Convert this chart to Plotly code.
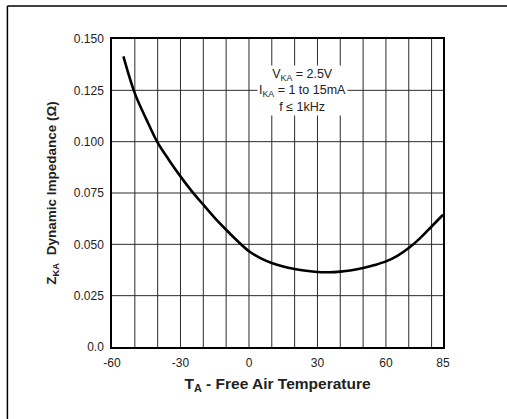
import plotly.graph_objects as go

temperature_c = [-55, -50, -45, -40, -35, -30, -25, -20, -15, -10, -5, 0, 5, 10, 15, 20, 25, 30, 35, 40, 45, 50, 55, 60, 65, 70, 75, 80, 85]
impedance_ohm = [0.1415, 0.1235, 0.1110, 0.0995, 0.0910, 0.0831, 0.0758, 0.0693, 0.0629, 0.0571, 0.0516, 0.0466, 0.0433, 0.0409, 0.0392, 0.0380, 0.0371, 0.0365, 0.0364, 0.0367, 0.0374, 0.0385, 0.0399, 0.0417, 0.0444, 0.0482, 0.0530, 0.0587, 0.0644]

x_tick_vals = [-60, -30, 0, 30, 60, 85]
x_tick_text = ["-60", "-30", "0", "30", "60", "85"]
y_tick_vals = [0.0, 0.025, 0.05, 0.075, 0.1, 0.125, 0.15]
y_tick_text = ["0.0", "0.025", "0.050", "0.075", "0.100", "0.125", "0.150"]
x_grid = [-50, -40, -30, -20, -10, 0, 10, 20, 30, 40, 50, 60, 70, 80]

fig = go.Figure()
fig.add_trace(go.Scatter(x=temperature_c, y=impedance_ohm, mode="lines",
                         line=dict(color="black", width=2.6, shape="spline"),
                         hoverinfo="skip", showlegend=False))

shapes = []
for gx in x_grid:
    shapes.append(dict(type="line", xref="x", yref="paper", x0=gx, x1=gx, y0=0, y1=1,
                       line=dict(color="#2a2a2a", width=1), layer="below"))
for gy in y_tick_vals[1:-1]:
    shapes.append(dict(type="line", xref="paper", yref="y", x0=0, x1=1, y0=gy, y1=gy,
                       line=dict(color="#2a2a2a", width=1), layer="below"))
# outer frame of figure: only its top and left edges fall inside the picture
shapes.append(dict(type="line", xref="paper", yref="paper", x0=-0.316, x1=1.5, y0=1.107, y1=1.107,
                   line=dict(color="black", width=1.5), layer="below"))
shapes.append(dict(type="line", xref="paper", yref="paper", x0=-0.316, x1=-0.316, y0=-0.5, y1=1.107,
                   line=dict(color="black", width=1.5), layer="below"))

fig.update_layout(
    width=507, height=419,
    margin=dict(l=112, r=64, t=39, b=72),
    paper_bgcolor="white", plot_bgcolor="white",
    font=dict(family="Liberation Sans, Arial, sans-serif", color="#222"),
    shapes=shapes,
    xaxis=dict(range=[-60, 85], tickvals=x_tick_vals, ticktext=x_tick_text,
               showgrid=False, zeroline=False, showline=True, linecolor="black", linewidth=1.5,
               mirror=True, ticks="", tickfont=dict(size=12), ticklabelstandoff=4,
               title=dict(text="<b>T<sub>A</sub> - Free Air Temperature</b>", font=dict(size=15.5, color="#222"), standoff=9)),
    yaxis=dict(range=[0, 0.15], tickvals=y_tick_vals, ticktext=y_tick_text,
               showgrid=False, zeroline=False, showline=True, linecolor="black", linewidth=1.5,
               mirror=True, ticks="", tickfont=dict(size=12), ticklabelstandoff=4,
               title=dict(text="<b>Z<sub>KA</sub>  Dynamic Impedance (Ω)</b>", font=dict(size=13.5, color="#222"), standoff=14)),
    annotations=[dict(x=23.6, y=0.125, xref="x", yref="y",
                      text="V<sub>KA</sub> = 2.5V<br>I<sub>KA</sub> = 1 to 15mA<br>f ≤ 1kHz",
                      showarrow=False, bgcolor="white", borderpad=1,
                      font=dict(size=12.5, color="#222"))],
)

fig.write_html("out.html", config={"displayModeBar": False},
               post_script="document.body.style.margin='0';document.body.style.overflow='hidden';")
